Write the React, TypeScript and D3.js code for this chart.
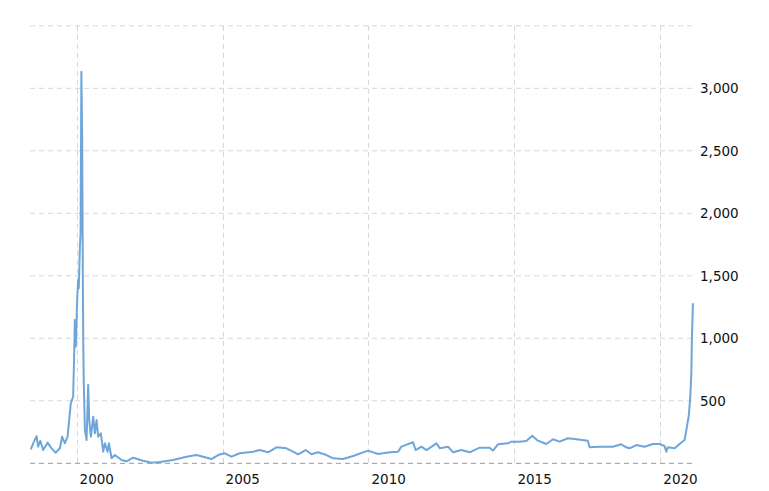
import React from "react";
import * as d3 from "d3";

const dates: string[] = [
  "1998-06-08","1998-07-07","1998-08-18","1998-09-07","1998-10-04","1998-11-08","1999-01-03","1999-02-22",
  "1999-04-13","1999-06-06","1999-07-04","1999-08-07","1999-09-10","1999-09-26","1999-10-21","1999-11-19",
  "1999-12-01","1999-12-10","1999-12-22","2000-01-08","2000-01-20","2000-01-29","2000-02-11","2000-02-20",
  "2000-03-01","2000-03-11","2000-03-19","2000-03-25","2000-04-01","2000-04-14","2000-05-05","2000-05-25",
  "2000-06-07","2000-06-28","2000-07-27","2000-08-17","2000-09-07","2000-09-27","2000-10-31","2000-11-29",
  "2000-12-20","2001-01-23","2001-02-08","2001-03-14","2001-04-24","2001-07-17","2001-09-17","2001-12-09",
  "2002-02-10","2002-04-13","2002-07-27","2002-11-07","2003-04-22","2003-10-07","2004-02-10","2004-05-03",
  "2004-08-15","2004-11-06","2005-01-29","2005-04-22","2005-08-04","2006-01-18","2006-04-11","2006-07-24",
  "2006-11-06","2007-03-11","2007-06-02","2007-08-04","2007-11-07","2008-01-18","2008-04-10","2008-07-24",
  "2008-10-15","2009-02-17","2009-06-22","2009-12-27","2010-05-01","2010-09-24","2011-01-06","2011-02-17",
  "2011-07-12","2011-08-14","2011-10-25","2011-12-27","2012-05-01","2012-06-11","2012-09-23","2012-11-24",
  "2013-03-08","2013-06-20","2013-10-23","2014-02-25","2014-04-08","2014-06-09","2014-10-12","2014-11-24",
  "2015-03-07","2015-05-30","2015-08-12","2015-10-22","2016-02-05","2016-04-27","2016-07-20","2016-11-01",
  "2017-02-14","2017-07-08","2017-07-30","2017-12-02","2018-05-18","2018-08-30","2018-11-01","2018-12-12",
  "2019-03-06","2019-06-18","2019-09-30","2019-12-22","2020-02-23","2020-03-16","2020-04-04","2020-06-28",
  "2020-08-29","2020-10-31","2020-11-29","2020-12-23","2021-01-10","2021-01-23","2021-01-30","2021-02-12",
];

const values: number[] = [
  112,160,218,133,180,106,165,120,
  85,120,213,160,213,320,480,533,
  853,1146,933,1306,1466,1400,1733,1840,
  3133,2600,1500,933,613,266,186,626,
  346,213,373,240,346,213,240,93,
  160,93,160,40,66,26,16,45,
  32,21,5,10,26,53,66,53,
  34,66,80,53,80,93,106,88,
  128,120,93,72,106,72,88,66,
  40,34,58,101,74,88,93,133,
  168,106,133,106,160,120,133,88,
  106,88,125,125,101,152,160,173,
  173,178,221,181,154,192,173,200,
  192,181,128,133,133,152,128,120,
  146,133,154,154,138,93,128,120,
  154,186,293,386,533,720,986,1280,
];

const yTicks: number[] = [500, 1000, 1500, 2000, 2500, 3000];
const yGrid: number[] = [500, 1000, 1500, 2000, 2500, 3000, 3500];
const xTickYears: number[] = [2000, 2005, 2010, 2015, 2020];

const W = 769;
const H = 491;

export default function App() {
  const parse = d3.timeParse("%Y-%m-%d");
  const data = dates.map((d, i) => ({ date: parse(d) as Date, value: values[i] }));

  const x = d3
    .scaleTime()
    .domain([new Date(1998, 4, 28), new Date(2021, 2, 10)])
    .range([30, 695]);
  const y = d3.scaleLinear().domain([0, 3500]).range([463.3, 25.8]);

  const line = d3
    .line<{ date: Date; value: number }>()
    .x((d) => x(d.date))
    .y((d) => y(d.value))
    .curve(d3.curveLinear);

  const fmt = d3.format(",");
  const font = "'DejaVu Sans', Verdana, sans-serif";

  return (
    <svg
      width={W}
      height={H}
      style={{ position: "absolute", left: 0, top: 0, background: "#fff" }}
    >
      {yGrid.map((t) => (
        <line
          key={"hg" + t}
          x1={30}
          x2={695}
          y1={y(t)}
          y2={y(t)}
          stroke="#d6d6d6"
          strokeWidth={1}
          strokeDasharray="5,4"
        />
      ))}
      {xTickYears.map((yr) => {
        const xx = Math.round(x(new Date(yr, 0, 1))) + 0.5;
        return (
          <line
            key={"vg" + yr}
            x1={xx}
            x2={xx}
            y1={y(3500)}
            y2={y(0)}
            stroke="#d6d6d6"
            strokeWidth={1}
            strokeDasharray="5,4"
          />
        );
      })}
      <line
        x1={30}
        x2={695}
        y1={y(0)}
        y2={y(0)}
        stroke="#999"
        strokeWidth={1}
        strokeDasharray="5,4"
      />
      <path
        d={line(data) || ""}
        fill="none"
        stroke="#6ea6db"
        strokeWidth={2}
        strokeLinejoin="round"
      />
      {yTicks.map((t) => (
        <text
          key={"yl" + t}
          x={700}
          y={y(t) + 5}
          fontFamily={font}
          fontSize={13.5}
          fill="#111"
        >
          {fmt(t)}
        </text>
      ))}
      {xTickYears.map((yr) => (
        <text
          key={"xl" + yr}
          x={x(new Date(yr, 0, 1)) + 3}
          y={484}
          fontFamily={font}
          fontSize={13.5}
          fill="#111"
        >
          {yr}
        </text>
      ))}
    </svg>
  );
}
